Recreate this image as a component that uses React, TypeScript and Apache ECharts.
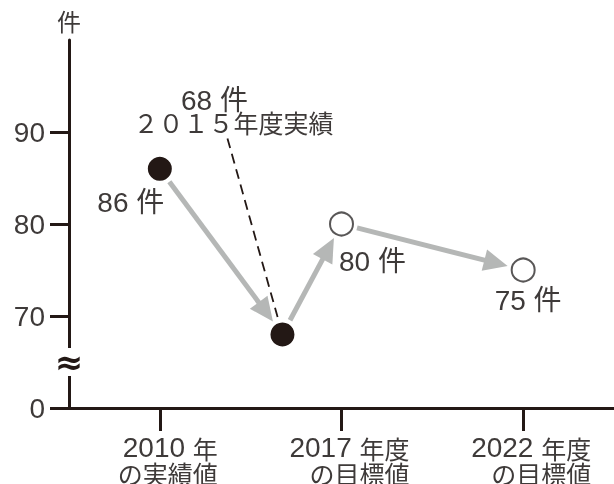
import { useEffect, useRef } from 'react';
import * as echarts from 'echarts';

// ---- data ----
const pointNames = ['2010年の実績値', '2015年度実績', '2017年度の目標値', '2022年度の目標値'];
const pointX = [0, 0.675, 1, 2];
const pointValues = [86, 68, 80, 75];
const pointIsTarget = [false, false, true, true];
const unit = '件';
const yTickValues = [60, 70, 80, 90];
const yTickLabels = ['0', '70', '80', '90'];
const xTickValues = [0, 1, 2];
const xTickYears = ['2010', '2017', '2022'];
const xTickSuffixes = ['年', '年度', '年度'];
const xTickSecondLines = ['の実績値', 'の目標値', 'の目標値'];
const annotatedIndex = 1;
const annotationText = '２０１５年度実績';

// ---- styles ----
const AXIS = '#231815';
const TEXT = '#3e3a39';
const ARROW = '#b5b7b6';
const FONT = "'Liberation Sans', 'Noto Sans CJK JP', sans-serif";
const CJK = "'Noto Sans CJK JP', sans-serif";
const labelOffsets: Record<number, [number, number]> = { 0: [-29, 34], 2: [31, 37], 3: [5, 30] };

export default function App() {
  const ref = useRef<HTMLDivElement>(null);
  useEffect(() => {
    if (!ref.current) return;
    const chart = echarts.init(ref.current, undefined, { renderer: 'svg' });

    const segments = pointX.slice(0, -1).map((x, i) => [x, pointValues[i], pointX[i + 1], pointValues[i + 1]]);
    const makePoint = (i: number) => ({
      name: pointNames[i],
      value: [pointX[i], pointValues[i]],
      label: {
        show: i !== annotatedIndex,
        offset: labelOffsets[i] || [0, 0],
      },
    });
    const actual = pointX.map((_, i) => i).filter((i) => !pointIsTarget[i]).map(makePoint);
    const target = pointX.map((_, i) => i).filter((i) => pointIsTarget[i]).map(makePoint);

    const pointLabel = {
      show: true,
      position: 'inside',
      formatter: (p: any) => `${p.value[1]} ${unit}`,
      color: TEXT,
      opacity: 1,
      fontSize: 28,
      fontFamily: FONT,
    };

    const option: any = {
      animation: false,
      grid: { left: 69, right: 0, top: 40, bottom: 76, containLabel: false, outerBoundsMode: 'none' },
      xAxis: {
        type: 'value',
        min: -0.5,
        max: 2.5,
        splitLine: { show: false },
        axisLine: { show: true, onZero: false, lineStyle: { color: AXIS, width: 3 } },
        axisTick: { show: true, length: 23, lineStyle: { color: AXIS, width: 3 }, customValues: xTickValues },
        axisLabel: {
          show: true,
          customValues: xTickValues,
          margin: 27,
          align: 'center',
          verticalAlign: 'top',
          padding: [0, 0, 0, 16],
          formatter: (v: number) => {
            const i = xTickValues.indexOf(v);
            if (i < 0) return '';
            return `{d|${xTickYears[i]} }{c|${xTickSuffixes[i]}}\n{c|${xTickSecondLines[i]}}`;
          },
          rich: {
            d: { fontSize: 28, fontFamily: FONT, color: TEXT, align: 'right', lineHeight: 25 },
            c: { fontSize: 25, fontFamily: CJK, color: TEXT, align: 'right', lineHeight: 25 },
          },
        },
      },
      yAxis: {
        type: 'value',
        min: 60,
        max: 100,
        interval: 10,
        name: unit,
        nameLocation: 'end',
        nameGap: 8,
        nameTextStyle: { color: TEXT, fontSize: 24, fontFamily: CJK, align: 'center' },
        splitLine: { show: false },
        axisLine: { show: true, onZero: false, lineStyle: { color: AXIS, width: 3 } },
        axisTick: { show: true, length: 19, lineStyle: { color: AXIS, width: 3 }, customValues: yTickValues },
        axisLabel: {
          show: true,
          customValues: yTickValues,
          margin: 24,
          color: TEXT,
          fontSize: 28,
          fontFamily: FONT,
          formatter: (v: number) => {
            const i = yTickValues.indexOf(v);
            return i < 0 ? '' : yTickLabels[i];
          },
        },
      },
      series: [
        {
          type: 'custom',
          name: 'arrows',
          coordinateSystem: 'cartesian2d',
          encode: { x: [0, 2], y: [1, 3] },
          clip: false,
          z: 1,
          data: segments,
          renderItem: (_params: any, api: any) => {
            const a = api.coord([api.value(0), api.value(1)]);
            const b = api.coord([api.value(2), api.value(3)]);
            const dx = b[0] - a[0];
            const dy = b[1] - a[1];
            const len = Math.hypot(dx, dy);
            const ux = dx / len;
            const uy = dy / len;
            const gap = 16;
            const head = 24;
            const half = 11;
            const sx = a[0] + ux * gap;
            const sy = a[1] + uy * gap;
            const tx = b[0] - ux * gap;
            const ty = b[1] - uy * gap;
            const bx = tx - ux * head;
            const by = ty - uy * head;
            const px = -uy;
            const py = ux;
            return {
              type: 'group',
              children: [
                { type: 'line', shape: { x1: sx, y1: sy, x2: bx + ux * 3, y2: by + uy * 3 }, style: { stroke: ARROW, lineWidth: 5 } },
                {
                  type: 'polygon',
                  shape: { points: [[tx, ty], [bx + px * half, by + py * half], [bx - px * half, by - py * half]] },
                  style: { fill: ARROW },
                },
              ],
            };
          },
        },
        {
          type: 'custom',
          name: 'annotation',
          coordinateSystem: 'cartesian2d',
          encode: { x: 0, y: 1 },
          clip: false,
          z: 2,
          data: [[pointX[annotatedIndex], pointValues[annotatedIndex]]],
          renderItem: (_params: any, api: any) => {
            const p = api.coord([api.value(0), api.value(1)]);
            const top = [p[0] - 55, p[1] - 196];
            const dx = p[0] - top[0];
            const dy = p[1] - top[1];
            const len = Math.hypot(dx, dy);
            const end = [p[0] - (dx / len) * 18, p[1] - (dy / len) * 18];
            return {
              type: 'group',
              children: [
                {
                  type: 'line',
                  shape: { x1: top[0], y1: top[1], x2: end[0], y2: end[1] },
                  style: { stroke: AXIS, lineWidth: 1.8, lineDash: [10, 6] },
                },
                {
                  type: 'text',
                  x: p[0] - 68,
                  y: p[1] - 234,
                  style: { text: `${api.value(1)} ${unit}`, fill: TEXT, fontSize: 28, fontFamily: FONT, align: 'center', verticalAlign: 'middle' },
                },
                {
                  type: 'text',
                  x: p[0] - 49,
                  y: p[1] - 212,
                  style: { text: annotationText, fill: TEXT, fontSize: 25, fontFamily: CJK, align: 'center', verticalAlign: 'middle' },
                },
              ],
            };
          },
        },
        {
          type: 'scatter',
          name: '実績',
          z: 3,
          symbol: 'circle',
          symbolSize: 24,
          itemStyle: { color: AXIS, opacity: 1 },
          label: pointLabel,
          data: actual,
        },
        {
          type: 'scatter',
          name: '目標',
          z: 3,
          symbol: 'circle',
          symbolSize: 23,
          itemStyle: { color: '#ffffff', borderColor: '#595757', borderWidth: 2, opacity: 1 },
          label: pointLabel,
          data: target,
        },
      ],
    };
    chart.setOption(option);

    const br = chart.convertToPixel({ xAxisIndex: 0, yAxisIndex: 0 }, [-0.5, 65]) as number[];
    chart.setOption({
      graphic: [
        { type: 'rect', x: br[0] - 6, y: br[1] - 14, shape: { width: 12, height: 28 }, style: { fill: '#ffffff' }, z: 100 },
        {
          type: 'text',
          x: br[0],
          y: br[1],
          z: 101,
          style: { text: '≈', fill: AXIS, fontSize: 34, fontWeight: 'bold', fontFamily: "'DejaVu Sans', sans-serif", align: 'center', verticalAlign: 'middle' },
        },
      ],
    });

    return () => chart.dispose();
  }, []);
  return <div ref={ref} style={{ position: 'fixed', left: 0, top: 0, width: 614, height: 484 }} />;
}
